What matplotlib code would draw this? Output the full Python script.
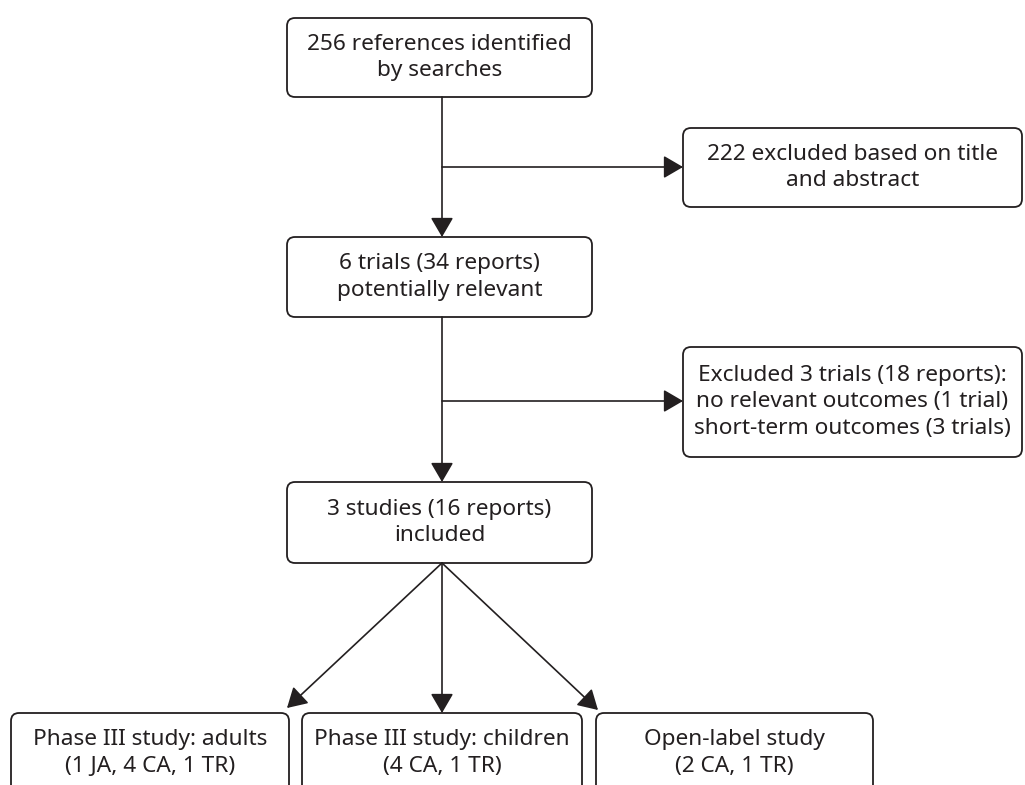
import matplotlib.pyplot as plt
from matplotlib.patches import FancyBboxPatch

# box texts
main_steps = ["256 references identified\nby searches",
              "6 trials (34 reports)\npotentially relevant",
              "3 studies (16 reports)\nincluded"]
excluded = ["222 excluded based on title\nand abstract",
            "Excluded 3 trials (18 reports):\nno relevant outcomes (1 trial)\nshort-term outcomes (3 trials)"]
studies = ["Phase III study: adults\n(1 JA, 4 CA, 1 TR)",
           "Phase III study: children\n(4 CA, 1 TR)",
           "Open-label study\n(2 CA, 1 TR)"]

ink = "#231f20"
plt.rcParams['font.family'] = ['Noto Sans', 'DejaVu Sans']

fig = plt.figure(figsize=(10.25, 7.85), dpi=100)
ax = fig.add_axes([0, 0, 1, 1])
ax.set_xlim(0, 1025)
ax.set_ylim(785, 0)
ax.axis("off")


def box(x0, y0, x1, y1, text, ty=None):
    p = FancyBboxPatch((x0, y0), x1 - x0, y1 - y0,
                       boxstyle="round,pad=0,rounding_size=8",
                       fc="white", ec=ink, lw=1.3)
    ax.add_patch(p)
    if ty is None:
        ty = (y0 + y1) / 2
    ax.text((x0 + x1) / 2, ty, text, ha="center", va="center",
            fontsize=16.3, color=ink, linespacing=1.32)


def arrow(x0, y0, x1, y1):
    ax.annotate("", xy=(x1, y1), xytext=(x0, y0),
                arrowprops=dict(arrowstyle="-|>,head_length=0.6,head_width=0.35",
                                color=ink, lw=1.2,
                                mutation_scale=20, shrinkA=0, shrinkB=0))


cx = 442

# main column
main_y = [(18, 97), (237, 317), (482, 563)]
for (y0, y1), t in zip(main_y, main_steps):
    box(287, y0, 592, y1, t)
arrow(cx, 97, cx, 237)
arrow(cx, 317, cx, 482)

# exclusion boxes
side_y = [(128, 207), (347, 457)]
branch_y = [167, 401]
for (y0, y1), by, t in zip(side_y, branch_y, excluded):
    box(683, y0, 1022, y1, t)
    arrow(cx, by, 683, by)

# bottom study boxes (cut off at the bottom edge)
bottom_x = [(11, 289), (302, 582), (596, 873)]
tips = [(287, 708), (442, 713), (598, 710)]
for (x0, x1), t in zip(bottom_x, studies):
    box(x0, 713, x1, 810, t, ty=753)
for tx, ty in tips:
    arrow(cx, 563, tx, ty)

fig.savefig("out.png", dpi=100)
